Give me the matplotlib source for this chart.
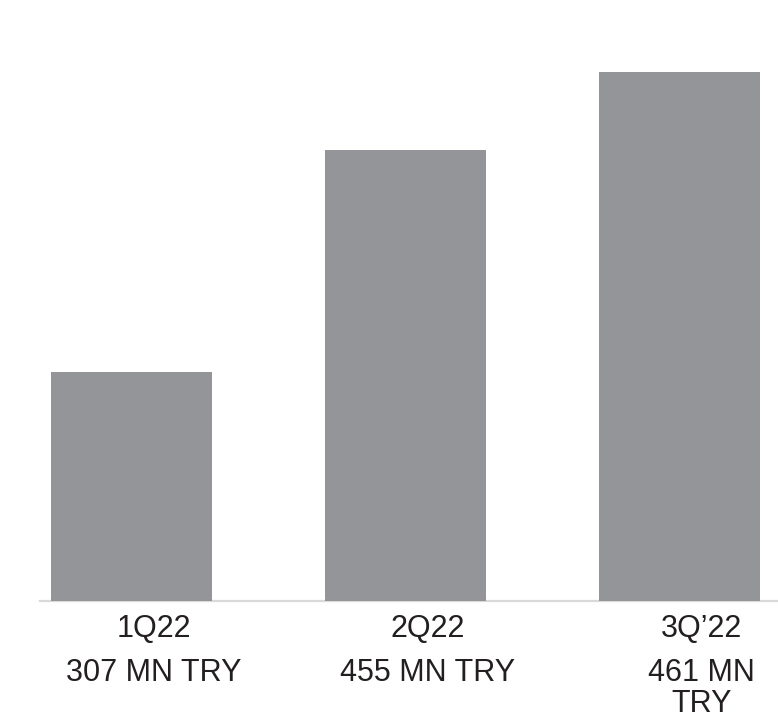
import matplotlib
matplotlib.use("Agg")
import matplotlib.pyplot as plt
import matplotlib.transforms as mtransforms
import numpy as np

# Data
categories = ["1Q22", "2Q22", "3Q\u201922"]
value_labels = ["307 MN TRY", "455 MN TRY", "461 MN\nTRY"]
bar_heights = [43.2, 85.3, 100.0]  # relative bar heights (3Q'22 = 100)

W, H = 778, 719
fig = plt.figure(figsize=(W / 100, H / 100), dpi=100)
plt.rcParams['font.family'] = ['Liberation Sans', 'DejaVu Sans']

# axes in pixel geometry
left_px, right_px = 40, 778
base_px = 600.5  # from top
top_px = 20
ax = fig.add_axes([left_px / W, (H - base_px) / H, (right_px - left_px) / W, (base_px - top_px) / H])

spacing = 273.9
c0 = 131.7
xmin = (left_px - c0) / spacing
xmax = (right_px - c0) / spacing
ax.set_xlim(xmin, xmax)
ymax = (base_px - top_px) / 5.285
ax.set_ylim(0, ymax)

x = np.arange(len(categories))
ax.bar(x, bar_heights, width=161 / spacing, color="#949599", zorder=3)
ax.axhline(0, color="#d9d9d9", lw=1.6, zorder=2, clip_on=False)

for s in ax.spines.values():
    s.set_visible(False)
ax.set_xticks([])
ax.set_yticks([])

trans = mtransforms.blended_transform_factory(ax.transData, fig.transFigure)
txt_color = "#231f20"
offset = 0.08
for i, (cat, val) in enumerate(zip(categories, value_labels)):
    ax.text(i + offset, (H - 637) / H, cat, transform=trans, ha="center", va="baseline",
            fontsize=22, color=txt_color)
    ax.text(i + offset, (H - 658) / H, val, transform=trans, ha="center", va="top",
            fontsize=22, color=txt_color, multialignment="center", linespacing=1.03)

fig.savefig("out.png", dpi=100)
